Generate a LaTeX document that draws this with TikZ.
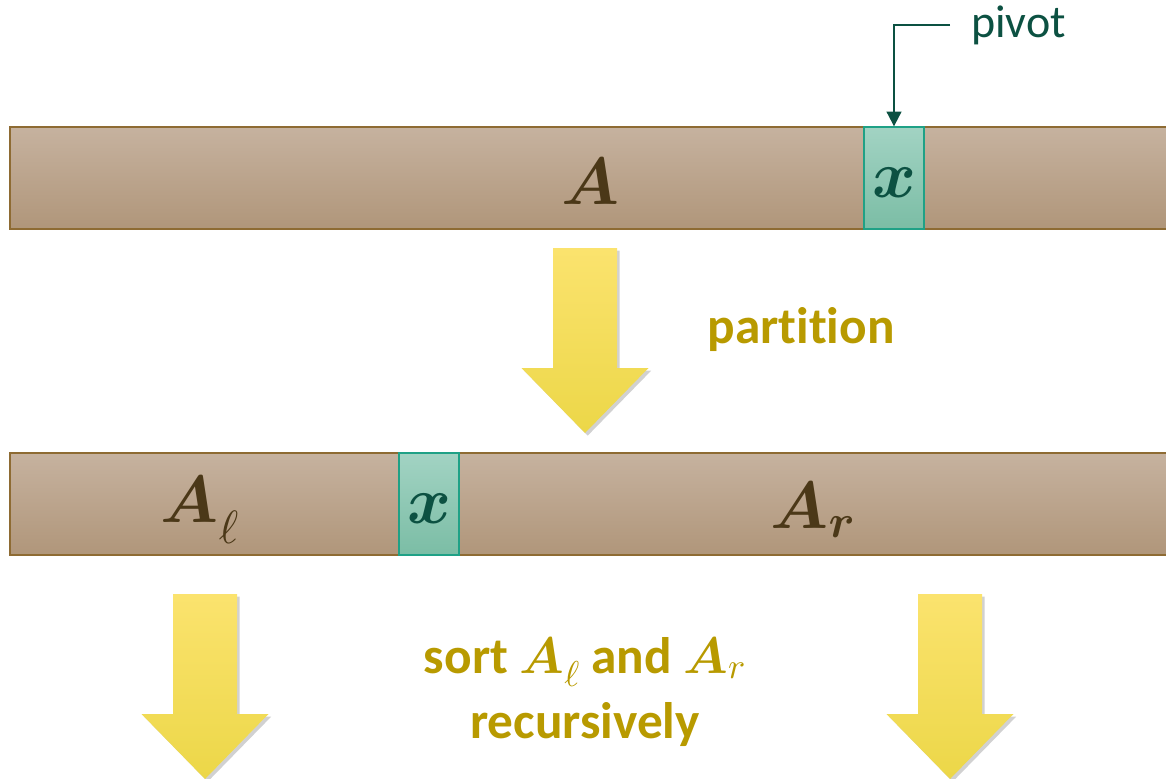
\documentclass[tikz,border=0pt]{standalone}
\usepackage{fontspec}
\setmainfont{Carlito}[Ligatures=NoCommon]
\usepackage{amsmath}
\usepackage{bm}
\DeclareFontShape{OML}{cmm}{m}{it}{<->cmmi10}{}
\DeclareFontShape{OML}{cmm}{b}{it}{<->cmmib10}{}
\usetikzlibrary{shadows,arrows.meta,positioning}

\definecolor{barTop}{HTML}{C6B29F}
\definecolor{barBot}{HTML}{B0967A}
\definecolor{barEdge}{HTML}{8E6B33}
\definecolor{cellTop}{HTML}{A2D3C3}
\definecolor{cellBot}{HTML}{7BBDA5}
\definecolor{cellEdge}{HTML}{1FA186}
\definecolor{darkGreen}{HTML}{0C5142}
\definecolor{darkBrown}{HTML}{4B3818}
\definecolor{arrTop}{HTML}{FBE36E}
\definecolor{arrMid}{HTML}{FDEA5E}
\definecolor{arrBot}{HTML}{ECD748}
\definecolor{goldText}{HTML}{B89A00}

\tikzset{
  barbox/.style={draw=barEdge, line width=1pt, top color=barTop, bottom color=barBot},
  cellbox/.style={draw=cellEdge, line width=1pt, top color=cellTop, bottom color=cellBot,
    minimum width=45pt, minimum height=76.5pt, inner sep=0pt, text height=29pt, text depth=0pt,
    text=darkGreen, font=\fontsize{50}{60}\selectfont},
  bigmath/.style={text=darkBrown, font=\fontsize{50}{60}\selectfont},
  goldlbl/.style={text=goldText, font=\bfseries\fontsize{38.5}{49}\selectfont, align=center},
  yarrow/.style={top color=arrTop, middle color=arrMid, bottom color=arrBot,
    drop shadow={shadow xshift=2pt, shadow yshift=-2pt, opacity=0.18, fill=black}},
  pivline/.style={draw=darkGreen, line width=1.5pt, -{Triangle[width=11pt,length=11pt]}}
}

% block arrow: centre x, top y
\newcommand\yellowarrow[2]{%
  \path[yarrow] (#1-32,#2) -- (#1+32,#2) -- (#1+32,#2+120) -- (#1+63.5,#2+120)
    -- (#1,#2+185) -- (#1-63.5,#2+120) -- (#1-32,#2+120) -- cycle;}

\begin{document}
\begin{tikzpicture}[x=0.75pt, y=-0.75pt]
\useasboundingbox (0,0) rectangle (1166,778);
\clip (0,0) rectangle (1166,778);

% array before partition
\path[barbox] (10,127) rectangle (1180,229);
\node[bigmath] (A) at (590,182) {$\bm{A}$};
\node[cellbox] (pivA) at (894,178) {$\bm{x}$};
\node[text=darkGreen, font=\fontsize{34.5}{40}\selectfont, anchor=west,
  inner xsep=15.75pt, inner ysep=0pt] (pivlbl) at (950,25) {pivot};
\draw[pivline] (pivlbl.west) -| (pivA.north);

\yellowarrow{585}{248}
\node[goldlbl] (part) at (801,330) {partition};

% array after partition
\path[barbox] (10,453) rectangle (1180,555);
\node[bigmath] (Al) at (200,510) {$\bm{A}_\ell$};
\node[cellbox] (pivB) at (429,504) {$\bm{x}$};
\node[bigmath] (Ar) at (813,510) {$\bm{A_r}$};

\yellowarrow{205}{594}
\yellowarrow{950}{594}
\node[goldlbl] (sortlbl) at (585,692) {sort $\bm{A}_\ell$ and $\bm{A}_r$\\recursively};
\end{tikzpicture}
\end{document}
